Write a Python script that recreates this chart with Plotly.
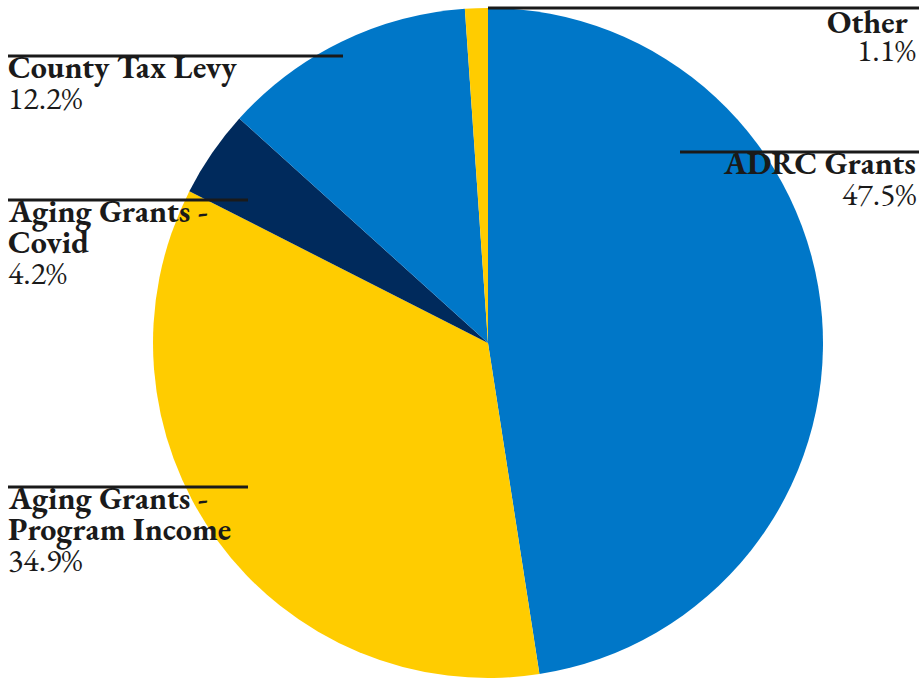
import plotly.graph_objects as go

labels = ["ADRC Grants", "Aging Grants - Program Income", "Aging Grants - Covid", "County Tax Levy", "Other"]
label_lines = [["ADRC Grants"], ["Aging Grants -", "Program Income"], ["Aging Grants -", "Covid"], ["County Tax Levy"], ["Other"]]
values = [47.5, 34.9, 4.2, 12.2, 1.1]
colors = ["#0077C8", "#FFCC00", "#002A5C", "#0077C8", "#FFCC00"]

W, H = 919, 679
fig = go.Figure(go.Pie(
    labels=labels, values=values, sort=False, direction="clockwise", rotation=0,
    marker=dict(colors=colors, line=dict(color="#FFFFFF", width=0)),
    textinfo="none", hoverinfo="label+percent", showlegend=False,
    domain=dict(x=[152 / W, 824 / W], y=[1 / H, 671 / H]),
))

# label placement (pixels): line y, line x0, x1, text anchor x, align, x-shift of bold name
placements = [
    (152, 680, 919, 917, "right", 0),
    (487, 8, 248, 7, "left", 0),
    (200, 8, 248, 7, "left", 0),
    (56, 8, 343, 7, "left", 0),
    (8, 488, 919, 917, "right", -7),
]
font_family = "EB Garamond, Garamond, Liberation Serif, serif"
FS = 32
LINE = 31
for (ly, x0, x1, tx, al, nshift), lines, v in zip(placements, label_lines, values):
    fig.add_shape(type="line", xref="paper", yref="paper",
                  x0=x0 / W, x1=x1 / W, y0=1 - ly / H, y1=1 - ly / H,
                  line=dict(color="#1a1a1a", width=3))
    rows = [f"<b>{s}</b>" for s in lines] + [f"{v:.1f}%"]
    for i, r in enumerate(rows):
        baseline = ly + 21 + LINE * i
        cy = baseline - 10
        is_name = i < len(lines)
        yanchor = "middle"
        yy = 1 - cy / H
        if cy < 21:
            yanchor, yy = "top", 1.0
        fig.add_annotation(xref="paper", yref="paper", x=tx / W, y=yy,
                           xanchor=al, yanchor=yanchor, align=al, showarrow=False,
                           borderpad=0, text=r, xshift=nshift if is_name else 0,
                           font=dict(family=font_family, size=FS, color="#1a1a1a"))

fig.update_layout(width=W, height=H, margin=dict(l=0, r=0, t=0, b=0),
                  paper_bgcolor="white", plot_bgcolor="white")
fig.write_html("out.html")
